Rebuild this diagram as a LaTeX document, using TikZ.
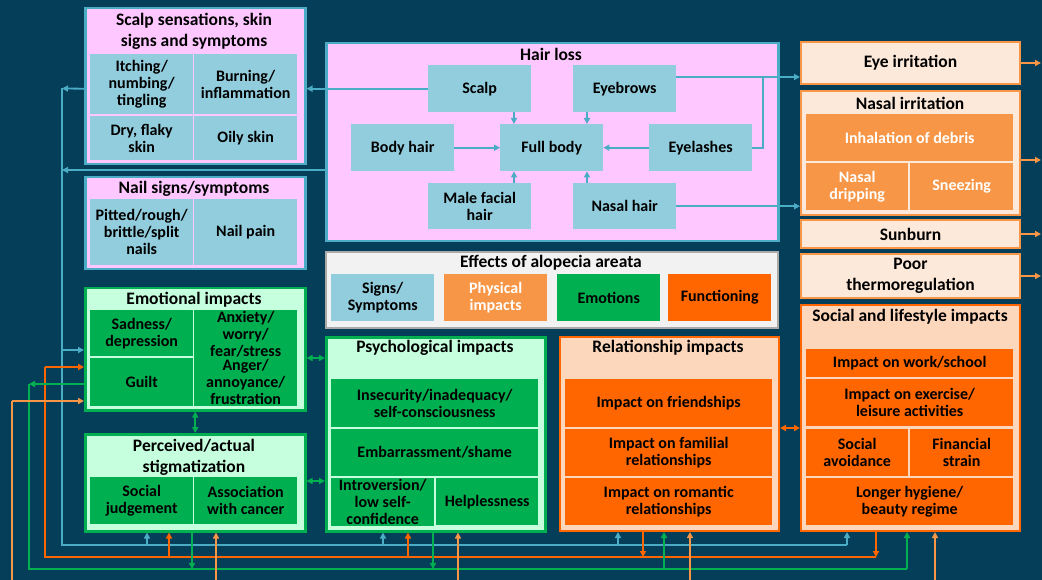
\documentclass[tikz,border=0pt]{standalone}
\usepackage{fontspec}
\setmainfont{Carlito}
\usetikzlibrary{arrows.meta}
\definecolor{bg}{RGB}{5,62,88}
\definecolor{pinkf}{RGB}{255,199,255}
\definecolor{bluec}{RGB}{146,205,221}
\definecolor{blueb}{RGB}{75,172,198}
\definecolor{greenc}{RGB}{0,176,80}
\definecolor{greenf}{RGB}{198,255,222}
\definecolor{lorange}{RGB}{247,150,70}
\definecolor{dorange}{RGB}{255,102,0}
\definecolor{peach}{RGB}{253,233,217}
\definecolor{peachb}{RGB}{253,215,188}
\definecolor{legbg}{RGB}{242,242,242}
\definecolor{legbd}{RGB}{170,170,170}
\newcommand\cfs{\fontsize{16}{17}\selectfont\bfseries}
\newcommand\tfs{\fontsize{17.5}{21}\selectfont\bfseries}
\newcommand\bx[7]{\node[#6,anchor=north west,minimum width={#3-#1},minimum height={#4-#2}] (#5) at (#1,#2) {#7};}
\tikzset{
  cell/.style={inner sep=1pt,align=center,font=\cfs},
  bluecell/.style={cell,fill=bluec},
  grncell/.style={cell,fill=greenc},
  lorcell/.style={cell,fill=lorange,text=white},
  dorcell/.style={cell,fill=dorange},
  pinkbox/.style={fill=pinkf,draw=blueb,line width=2.5pt},
  greenbox/.style={fill=greenf,draw=greenc,line width=2.5pt},
  peachbox/.style={fill=peach,draw=lorange,line width=2pt,align=center,font=\tfs},
  funcbox/.style={fill=peachb,draw=dorange,line width=2pt},
  legbox/.style={fill=legbg,draw=legbd,line width=2pt},
  ttl/.style={align=center,font=\tfs,inner sep=0pt},
  bl/.style={draw=blueb,line width=1.8pt},
  gr/.style={draw=greenc,line width=1.8pt},
  dor/.style={draw=dorange,line width=1.8pt},
  lor/.style={draw=lorange,line width=1.8pt},
  tip/.style={-{Triangle[length=6pt,width=6pt]}},
  dtip/.style={{Triangle[length=6pt,width=6pt]}-{Triangle[length=6pt,width=6pt]}},
}
\begin{document}
\begin{tikzpicture}[x=1pt,y=-1pt]
\useasboundingbox (0,0) rectangle (1042,580);
\clip (0,0) rectangle (1042,580);
\fill[bg] (0,0) rectangle (1042,580);

% ---- Scalp sensations
\bx{84}{7}{304}{163}{sss}{pinkbox}{}
\node[ttl] (ssst) at (194,31) {Scalp sensations, skin\\signs and symptoms};
\bx{90}{54}{193}{114}{itch}{bluecell}{Itching/\\numbing/\\tingling}
\bx{194}{54}{297}{114}{burn}{bluecell}{Burning/\\inflammation}
\bx{90}{116}{193}{160}{dry}{bluecell}{Dry, flaky\\skin}
\bx{194}{116}{297}{160}{oily}{bluecell}{Oily skin}

% ---- Nail
\bx{84}{176}{304}{268}{nail}{pinkbox}{}
\node[ttl] (nailt) at (194,189) {Nail signs/symptoms};
\bx{90}{199}{193}{265}{pit}{bluecell}{Pitted/rough/\\brittle/split\\nails}
\bx{194}{199}{297}{265}{npain}{bluecell}{Nail pain}

% ---- Emotional
\bx{84}{287}{304}{409}{emo}{greenbox}{}
\node[ttl] (emot) at (194,300) {Emotional impacts};
\bx{90}{310}{193}{356}{sad}{grncell}{Sadness/\\depression}
\bx{194}{310}{297}{356}{anx}{grncell}{Anxiety/\\worry/\\fear/stress}
\bx{90}{358}{193}{406}{guilt}{grncell}{Guilt}
\bx{194}{358}{297}{406}{anger}{grncell}{Anger/\\annoyance/\\frustration}

% ---- Stigmatization
\bx{84}{433}{304}{530}{stig}{greenbox}{}
\node[ttl] (stigt) at (194,457) {Perceived/actual\\stigmatization};
\bx{90}{477}{193}{524}{sj}{grncell}{Social\\judgement}
\bx{194}{477}{297}{524}{canc}{grncell}{Association\\with cancer}

% ---- Hair loss
\bx{325}{42}{777}{240}{hair}{pinkbox}{}
\node[ttl] (hairt) at (551,54) {Hair loss};
\bx{428}{65}{531}{112}{hscalp}{bluecell}{Scalp}
\bx{573}{65}{676}{112}{hbrow}{bluecell}{Eyebrows}
\bx{351}{124}{454}{171}{hbody}{bluecell}{Body hair}
\bx{500}{124}{603}{171}{hfull}{bluecell}{Full body}
\bx{649}{124}{752}{171}{hlash}{bluecell}{Eyelashes}
\bx{428}{183}{531}{229}{hmale}{bluecell}{Male facial\\hair}
\bx{573}{183}{676}{229}{hnasal}{bluecell}{Nasal hair}

% ---- Legend
\bx{325}{251}{777}{327}{leg}{legbox}{}
\node[ttl] (legt) at (551,263) {Effects of alopecia areata};
\bx{331}{274}{434}{321}{lsig}{bluecell}{Signs/\\Symptoms}
\bx{444}{274}{547}{321}{lphy}{lorcell}{Physical\\impacts}
\bx{557}{274}{660}{321}{lemo}{grncell}{Emotions}
\bx{668}{274}{771}{321}{lfun}{dorcell}{Functioning}

% ---- Psychological
\bx{325}{336}{544}{530}{psy}{greenbox}{}
\node[ttl] (psyt) at (435,348) {Psychological impacts};
\bx{331}{379}{538}{427}{insec}{grncell}{Insecurity/inadequacy/\\self-consciousness}
\bx{331}{429}{538}{476}{emb}{grncell}{Embarrassment/shame}
\bx{331}{478}{434}{525}{intro}{grncell}{Introversion/\\low self-\\confidence}
\bx{436}{478}{538}{525}{help}{grncell}{Helplessness}

% ---- Relationship
\bx{559}{336}{778}{530}{rel}{funcbox}{}
\node[ttl] (relt) at (668,348) {Relationship impacts};
\bx{565}{379}{772}{427}{fr}{dorcell}{Impact on friendships}
\bx{565}{429}{772}{476}{fam}{dorcell}{Impact on familial\\relationships}
\bx{565}{478}{772}{525}{rom}{dorcell}{Impact on romantic\\relationships}

% ---- Right column
\bx{800}{41}{1019}{83}{eye}{peachbox}{Eye irritation}
\bx{800}{90}{1019}{214}{nas}{peachbox}{}
\node[ttl] (nast) at (910,103) {Nasal irritation};
\bx{806}{114}{1013}{161}{inhal}{lorcell}{Inhalation of debris}
\bx{806}{163}{908}{210}{drip}{lorcell}{Nasal\\dripping}
\bx{910}{163}{1013}{210}{sneeze}{lorcell}{Sneezing}
\bx{800}{219}{1019}{247}{sun}{peachbox}{Sunburn}
\bx{800}{253}{1019}{297}{thermo}{peachbox}{Poor\\thermoregulation}
\bx{800}{304}{1019}{530}{soc}{funcbox}{}
\node[ttl] (soct) at (910,317) {Social and lifestyle impacts};
\bx{806}{349}{1013}{377}{work}{dorcell}{Impact on work/school}
\bx{806}{379}{1013}{426}{exer}{dorcell}{Impact on exercise/\\leisure activities}
\bx{806}{429}{908}{476}{savoid}{dorcell}{Social\\avoidance}
\bx{910}{429}{1013}{476}{fin}{dorcell}{Financial\\strain}
\bx{806}{478}{1013}{525}{hyg}{dorcell}{Longer hygiene/\\beauty regime}

% ---- Hair loss internal arrows
\coordinate (hx1) at (514,0);
\coordinate (hx2) at (587,0);
\draw[bl,tip] (hscalp.south -| hx1) -- (hfull.north -| hx1);
\draw[bl,tip] (hbrow.south -| hx2) -- (hfull.north -| hx2);
\draw[bl,tip] (hmale.north -| hx1) -- (hfull.south -| hx1);
\draw[bl,tip] (hnasal.north -| hx2) -- (hfull.south -| hx2);
\draw[bl,tip] (hbody.east) -- (hfull.west);
\draw[bl,tip] (hlash.west) -- (hfull.east);

% ---- Hair loss to right
\coordinate (ebY) at (763,77);
\draw[bl,tip] (hbrow.east |- ebY) -- (eye.west |- ebY);
\draw[bl] (hlash.east) -- (hlash.east -| ebY) -- (ebY);
\draw[bl,tip] (hnasal.east) -- (hnasal.east -| nas.west);

% ---- Blue bus
\coordinate (bTop) at (62,88.5);
\coordinate (bMid) at (62,170);
\coordinate (bEmo) at (62,350);
\coordinate (bBL) at (62,545);
\coordinate (bB1) at (147,545);
\coordinate (bB2) at (383,545);
\coordinate (bB3) at (618,545);
\coordinate (bBR) at (847,545);
\draw[bl,tip] (hscalp.west) -- (hscalp.west -| sss.east);
\draw[bl,tip] (sss.west |- hscalp.west) -- (bTop);
\draw[bl,tip] (hair.west |- bMid) -- (bMid);
\draw[bl] (bTop) -- (bBL) -- (bBR);
\draw[bl,tip] (bBR) -- (bBR |- soc.south);
\draw[bl,tip] (bEmo) -- (bEmo -| emo.west);
\draw[bl,tip] (bB1) -- (bB1 |- stig.south);
\draw[bl,tip] (bB2) -- (bB2 |- psy.south);
\draw[bl,tip] (bB3) -- (bB3 |- rel.south);

% ---- Dark orange bus
\coordinate (oEmo) at (45,367);
\coordinate (oBL) at (45,557);
\coordinate (oB1) at (169,557);
\coordinate (oB2) at (408,557);
\coordinate (oB3) at (643,557);
\coordinate (oBR) at (876,557);
\draw[dor,tip] (oBR |- soc.south) -- (oBR);
\draw[dor,tip] (oB3 |- rel.south) -- (oB3);
\draw[dor] (oBR) -- (oBL) -- (oEmo);
\draw[dor,tip] (oEmo) -- (oEmo -| emo.west);
\draw[dor,tip] (oB1) -- (oB1 |- stig.south);
\draw[dor,tip] (oB2) -- (oB2 |- psy.south);

% ---- Green bus
\coordinate (gEmo) at (29,384);
\coordinate (gBL) at (29,569);
\coordinate (gB1) at (192,569);
\coordinate (gB2) at (433,569);
\coordinate (gB3) at (664,569);
\coordinate (gBR) at (907,569);
\draw[gr,tip] (gEmo -| emo.west) -- (gEmo);
\draw[gr] (gEmo) -- (gBL) -- (gBR);
\draw[gr,tip] (gBR) -- (gBR |- soc.south);
\draw[gr,tip] (gB3) -- (gB3 |- rel.south);
\draw[gr,tip] (gB1 |- stig.south) -- (gB1);
\draw[gr,tip] (gB2 |- psy.south) -- (gB2);

% ---- Light orange bus (runs off the canvas)
\coordinate (lEmo) at (12,401);
\coordinate (lBL) at (12,592);
\coordinate (lB1) at (216,592);
\coordinate (lB2) at (458,592);
\coordinate (lB3) at (690,592);
\coordinate (lB4) at (935,592);
\coordinate (lBR) at (1047,592);
\coordinate (lTR) at (1047,62);
\coordinate (lRx) at (1041,0);
\coordinate (lN) at (1041,160);
\draw[lor,tip] (eye.east) -- (eye.east -| lRx);
\draw[lor,tip] (nas.east |- lN) -- (lN);
\draw[lor,tip] (sun.east) -- (sun.east -| lRx);
\draw[lor,tip] (thermo.east) -- (thermo.east -| lRx);
\draw[lor] (lTR) -- (lBR) -- (lBL) -- (lEmo);
\draw[lor,tip] (lEmo) -- (lEmo -| emo.west);
\draw[lor,tip] (lB1) -- (lB1 |- stig.south);
\draw[lor,tip] (lB2) -- (lB2 |- psy.south);
\draw[lor,tip] (lB3) -- (lB3 |- rel.south);
\draw[lor,tip] (lB4) -- (lB4 |- soc.south);

% ---- Double arrows
\coordinate (gd1) at (314,358);
\coordinate (gd2) at (314,481);
\coordinate (od) at (789,428);
\draw[gr,dtip] (emo.east |- gd1) -- (psy.west |- gd1);
\draw[gr,dtip] (stig.east |- gd2) -- (psy.west |- gd2);
\draw[gr,dtip] (emo.south) -- (stig.north);
\draw[dor,dtip] (rel.east |- od) -- (soc.west |- od);
\end{tikzpicture}
\end{document}
